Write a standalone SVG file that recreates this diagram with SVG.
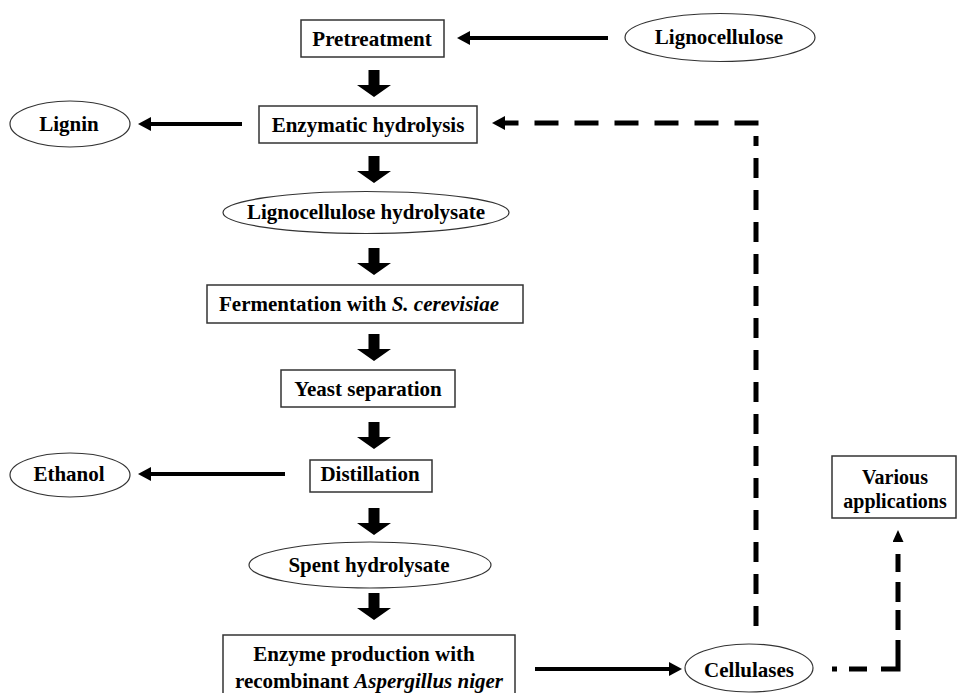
<svg xmlns="http://www.w3.org/2000/svg" width="959" height="693" viewBox="0 0 959 693">
<style>
.box{fill:#fff;stroke:#333;stroke-width:1.5}
.ell{fill:#fff;stroke:#333;stroke-width:1.2}
text{font-family:"Liberation Serif","Times New Roman",serif;font-weight:bold;font-size:21px;fill:#000;text-anchor:middle}
.it{font-style:italic}
.sm{font-size:20px}
.sol{fill:none;stroke:#000;stroke-width:4}
.dsh{fill:none;stroke:#000;stroke-width:5}
</style>
<defs>
<marker id="ah" markerUnits="userSpaceOnUse" markerWidth="14" markerHeight="14" refX="0" refY="7" orient="auto"><path d="M0,0 L13,7 L0,14 z" fill="#000"/></marker>
<marker id="ahs" markerUnits="userSpaceOnUse" markerWidth="12" markerHeight="12" refX="0" refY="5.5" orient="auto"><path d="M0,0 L12,5.5 L0,11 z" fill="#000"/></marker>
<path id="blk" d="M-5.5,0 h11 v15 h11.5 L0,27 L-17,15 h11.5 z" fill="#000"/>
</defs>

<g id="connectors">
<line class="sol" x1="608" y1="38" x2="470" y2="38" marker-end="url(#ah)"/>
<line class="sol" x1="242" y1="124" x2="151" y2="124" marker-end="url(#ah)"/>
<line class="sol" x1="285" y1="474" x2="151" y2="474" marker-end="url(#ah)"/>
<line class="sol" x1="535" y1="669" x2="669" y2="669" marker-end="url(#ah)"/>
<path class="dsh" d="M756,626 V136" stroke-dasharray="20 12"/>
<path class="dsh" d="M758.5,123 H505" stroke-dasharray="24 16" marker-end="url(#ah)"/>
<path class="dsh" d="M832,669 H898 V542" stroke-dasharray="5 12 18 14 46 10 20 8 20 10 18 100" marker-end="url(#ahs)"/>
<use href="#blk" x="374" y="70"/>
<use href="#blk" x="374" y="156"/>
<use href="#blk" x="374" y="248"/>
<use href="#blk" x="374" y="334"/>
<use href="#blk" x="374" y="422"/>
<use href="#blk" x="374" y="508"/>
<use href="#blk" x="374" y="593"/>
</g>

<g id="lignocellulose"><ellipse class="ell" cx="720" cy="37.5" rx="95" ry="24"/><text x="719" y="44">Lignocellulose</text></g>
<g id="pretreatment"><rect class="box" x="301" y="20" width="143" height="37"/><text x="372" y="46">Pretreatment</text></g>
<g id="enzymatic-hydrolysis"><rect class="box" x="259" y="106" width="218" height="37"/><text x="368" y="132">Enzymatic hydrolysis</text></g>
<g id="lignin"><ellipse class="ell" cx="70" cy="124" rx="60" ry="23"/><text x="69" y="131">Lignin</text></g>
<g id="hydrolysate"><ellipse class="ell" cx="366" cy="212.5" rx="143" ry="21"/><text x="366" y="219">Lignocellulose hydrolysate</text></g>
<g id="fermentation"><rect class="box" x="207" y="285" width="316" height="38"/><text x="359" y="311">Fermentation with <tspan class="it">S. cerevisiae</tspan></text></g>
<g id="yeast-separation"><rect class="box" x="281" y="370" width="174" height="37"/><text x="368" y="396">Yeast separation</text></g>
<g id="distillation"><rect class="box" x="310" y="460" width="122" height="32"/><text x="370" y="481">Distillation</text></g>
<g id="ethanol"><ellipse class="ell" cx="70" cy="475" rx="60" ry="22"/><text x="69" y="481">Ethanol</text></g>
<g id="spent-hydrolysate"><ellipse class="ell" cx="370" cy="565" rx="121" ry="23"/><text x="369" y="572">Spent hydrolysate</text></g>
<g id="enzyme-production"><rect class="box" x="223" y="635" width="292" height="70"/><text x="364" y="661">Enzyme production with</text><text x="369" y="688">recombinant <tspan class="it">Aspergillus niger</tspan></text></g>
<g id="cellulases"><ellipse class="ell" cx="749" cy="668" rx="64" ry="24"/><text x="749" y="677">Cellulases</text></g>
<g id="various-applications"><rect class="box" x="832" y="456" width="124" height="62"/><text class="sm" x="895" y="484">Various</text><text class="sm" x="895" y="508">applications</text></g>
</svg>
